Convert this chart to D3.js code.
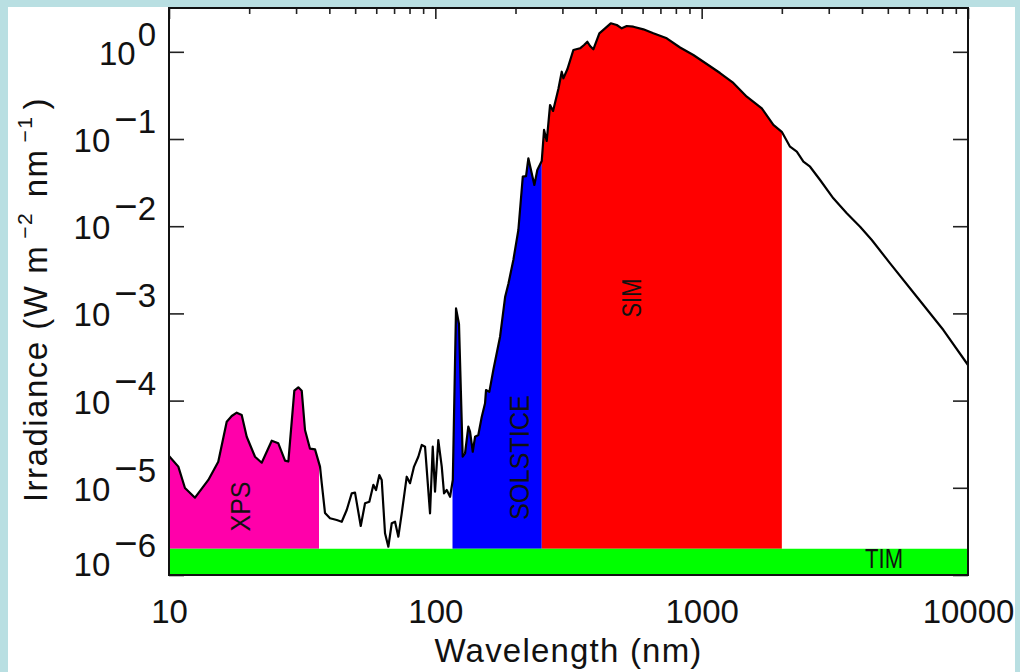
<!DOCTYPE html>
<html lang="en">

<head>
    <meta charset="UTF-8" />
    <title>Solar spectral irradiance and instrument coverage</title>
    <script src="https://cdn.jsdelivr.net/npm/d3@7"></script>
    <style>
        body { margin: 0; }
        text { font-family: "Liberation Sans", Arial, sans-serif; fill: #111; }
    </style>
</head>

<body>
    <div id="my_dataviz"></div>

    <script>

        // solar spectrum: wavelength (nm), irradiance (W m-2 nm-1)
        const wavelength = [
            10.0, 10.84, 11.48, 12.52, 14.05, 15.31, 16.47, 17.20, 17.96, 18.75,
            19.58, 21.04, 22.29, 24.31, 25.73, 27.27, 28.06, 29.55, 30.59, 31.50,
            32.41, 33.84, 35.34, 36.90, 37.45, 38.53, 40.23, 42.63, 44.52, 46.48,
            48.54, 49.94, 52.47, 54.46, 56.52, 58.51, 59.89, 61.62, 62.91, 64.73,
            66.61, 68.60, 70.58, 72.63, 74.79, 78.09, 80.35, 83.18, 86.33, 88.91,
            91.48, 95.52, 97.78, 99.74, 102.6, 105.7, 107.8, 110.4, 113.6, 116.3,
            119.6, 122.7, 126.7, 129.3, 133.0, 135.0, 138.2, 141.0, 145.0, 149.4,
            153.7, 155.0, 159.5, 165.1, 175.0, 182.8, 188.0, 196.3, 205.0, 213.0,
            219.1, 223.5, 230.1, 235.4, 241.5, 250.9, 256.0, 262.0, 269.6, 276.7,
            289.7, 298.3, 302.5, 313.1, 329.8, 349.4, 361.7, 372.2, 381.0, 392.0,
            412.9, 433.8, 455.7, 480.0, 501.2, 523.3, 554.1, 604.0, 658.5, 739.5,
            829.7, 930.7, 1045, 1172, 1315, 1477, 1682, 1859, 1999, 2147,
            2276, 2410, 2553, 2784, 3122, 3506, 3934, 4353, 5099, 6423,
            8084, 10000
        ];
        const irradiance = [
            2.32e-5, 1.75e-5, 9.95e-6, 7.70e-6, 1.23e-5, 1.99e-5, 5.73e-5, 6.66e-5, 7.27e-5, 6.84e-5,
            3.85e-5, 2.27e-5, 1.94e-5, 3.47e-5, 3.24e-5, 2.05e-5, 2.00e-5, 1.30e-4, 1.42e-4, 1.30e-4,
            4.60e-5, 2.81e-5, 2.76e-5, 1.75e-5, 1.13e-5, 5.14e-6, 4.47e-6, 4.27e-6, 4.08e-6, 5.56e-6,
            8.65e-6, 8.79e-6, 3.65e-6, 6.64e-6, 6.93e-6, 1.08e-5, 9.44e-6, 1.40e-5, 1.23e-5, 3.01e-6,
            2.11e-6, 3.92e-6, 4.08e-6, 2.75e-6, 5.10e-6, 1.34e-5, 1.13e-5, 1.75e-5, 2.27e-5, 3.10e-5,
            2.96e-5, 5.10e-6, 2.96e-5, 9.02e-6, 3.53e-5, 1.75e-5, 8.65e-6, 9.44e-6, 7.90e-6, 1.23e-5,
            1.14e-3, 7.56e-4, 2.27e-5, 2.49e-5, 5.02e-5, 4.40e-5, 2.59e-5, 3.85e-5, 4.03e-5, 6.53e-5,
            9.31e-5, 1.32e-4, 1.26e-4, 2.24e-4, 5.40e-4, 1.54e-3, 2.17e-3, 4.10e-3, 9.05e-3, 3.70e-2,
            3.76e-2, 6.01e-2, 4.04e-2, 2.97e-2, 4.41e-2, 5.59e-2, 0.127, 0.0949, 0.245, 0.210,
            0.374, 0.591, 0.497, 0.630, 1.049, 1.097, 1.197, 1.305, 1.166, 1.068,
            1.630, 1.860, 2.123, 2.029, 1.860, 1.976, 1.940, 1.811, 1.630, 1.428,
            1.120, 0.919, 0.725, 0.571, 0.439, 0.306, 0.225, 0.145, 0.121, 0.0816,
            0.0715, 0.0549, 0.0481, 0.0339, 0.0209, 0.0141, 0.00987, 0.00694, 0.00375, 0.00155,
            6.45e-4, 2.56e-4
        ];

        // wavelength coverage of each instrument (nm)
        const instruments = ["XPS", "SOLSTICE", "SIM"];
        const instStart = [10, 116, 251];
        const instEnd = [36.6, 251, 2000];
        // TIM is drawn as a band along the bottom
        const timBand = [1e-6, 2e-6];

        const xTicks = [10, 100, 1000, 10000];
        const yExponents = [0, -1, -2, -3, -4, -5, -6];

        const colors = { XPS: "#ff00aa", SOLSTICE: "#0000ff", SIM: "#ff0000", TIM: "#00ff00" };

        // set the dimensions and margins of the graph
        const W = 1020, H = 672;
        const margin = { top: 8, right: 52, bottom: 97, left: 169 },
            width = W - margin.left - margin.right,
            height = H - margin.top - margin.bottom;

        const root = d3.select("#my_dataviz")
            .append("svg")
            .attr("width", W)
            .attr("height", H);

        // light blue page border
        root.append("rect").attr("width", W).attr("height", H).attr("fill", "#b9dfe2");
        root.append("rect").attr("x", 8).attr("y", 7).attr("width", 1007).attr("height", H - 7).attr("fill", "#fff");

        const svg = root.append("g")
            .attr("transform", `translate(${margin.left},${margin.top})`);

        const x = d3.scaleLog().domain([10, 10000]).range([0, width]);
        const y = d3.scaleLog().domain([1e-6, 3.18]).range([height, 0]);

        const decades = yExponents.map(e => Math.pow(10, e));
        const minorX = x.ticks().filter(t => xTicks.indexOf(t) < 0);

        function styleTicks(g) {
            g.select(".domain").remove();
            g.selectAll("line").attr("stroke", "#222").attr("stroke-width", 1.6);
        }

        // ticks go in first, the fills sit on top of them
        svg.append("g").call(d3.axisLeft(y).tickValues(decades).tickSize(-15).tickFormat("")).call(styleTicks);
        svg.append("g").attr("transform", `translate(${width},0)`)
            .call(d3.axisRight(y).tickValues(decades).tickSize(-15).tickFormat("")).call(styleTicks);
        svg.append("g").call(d3.axisTop(x).tickValues(xTicks).tickSize(-11).tickFormat("")).call(styleTicks);
        svg.append("g").call(d3.axisTop(x).tickValues(minorX).tickSize(-6).tickFormat("")).call(styleTicks);

        const spectrum = wavelength.map((w, i) => [w, irradiance[i]]);

        // filled area under the spectrum, one clip per instrument
        const area = d3.area()
            .x(d => x(d[0]))
            .y0(y(timBand[1]))
            .y1(d => y(d[1]));

        const defs = root.append("defs");
        instruments.forEach((name, i) => {
            defs.append("clipPath").attr("id", "clip-" + name)
                .append("rect")
                .attr("x", x(instStart[i]))
                .attr("y", 0)
                .attr("width", x(instEnd[i]) - x(instStart[i]))
                .attr("height", height);
            svg.append("path")
                .datum(spectrum)
                .attr("d", area)
                .attr("fill", colors[name])
                .attr("clip-path", `url(#clip-${name})`);
        });

        // TIM band
        svg.append("rect")
            .attr("x", 0)
            .attr("y", y(timBand[1]))
            .attr("width", width)
            .attr("height", y(timBand[0]) - y(timBand[1]))
            .attr("fill", colors.TIM);

        // spectrum line
        svg.append("path")
            .datum(spectrum)
            .attr("fill", "none")
            .attr("stroke", "#000")
            .attr("stroke-width", 2.2)
            .attr("stroke-linejoin", "round")
            .attr("d", d3.line().x(d => x(d[0])).y(d => y(d[1])));

        // frame
        svg.append("rect")
            .attr("width", width)
            .attr("height", height)
            .attr("fill", "none")
            .attr("stroke", "#111")
            .attr("stroke-width", 2);

        // x tick labels
        svg.append("g")
            .attr("transform", `translate(0,${height})`)
            .call(d3.axisBottom(x).tickValues(xTicks).tickSize(0).tickFormat(d3.format("d")))
            .call(g => g.select(".domain").remove())
            .selectAll("text")
            .attr("y", 48)
            .attr("dy", 0)
            .attr("font-size", 33)
            .attr("font-family", null);

        // y tick labels as 10 with a superscript exponent
        yExponents.forEach(e => {
            const t = svg.append("text")
                .attr("x", -13)
                .attr("y", Math.min(y(Math.pow(10, e)) + 13, height + 1))
                .attr("text-anchor", "end")
                .attr("font-size", 33);
            t.append("tspan").text("10");
            if (e < 0) {
                t.append("tspan").attr("font-size", 40).attr("dx", 4).attr("dy", -19).text("\u2212");
                t.append("tspan").text(String(-e));
            } else {
                t.append("tspan").attr("dx", 2).attr("dy", -19).text(String(e));
            }
        });

        // axis titles
        svg.append("text")
            .attr("x", width / 2)
            .attr("y", height + 87)
            .attr("text-anchor", "middle")
            .attr("font-size", 33)
            .attr("letter-spacing", 1.2)
            .text("Wavelength (nm)");

        const yt = svg.append("text")
            .attr("transform", `translate(-122,${height / 2 + 8}) rotate(-90)`)
            .attr("text-anchor", "middle")
            .attr("font-size", 33)
            .attr("letter-spacing", 1.5);
        yt.append("tspan").text("Irradiance  (W  m");
        yt.append("tspan").attr("font-size", 21).attr("dx", 6).attr("dy", -15).text("\u22122");
        yt.append("tspan").attr("dx", 4).attr("dy", 15).text("  nm");
        yt.append("tspan").attr("font-size", 21).attr("dx", 6).attr("dy", -15).text("\u22121");
        yt.append("tspan").attr("dx", 6).attr("dy", 15).text(")");

        // instrument labels
        const labelName = ["XPS", "SOLSTICE", "SIM", "TIM"];
        const labelAt = [[20.1, 6.1e-6], [224.9, 2.22e-5], [592, 1.5e-3], [4840, 1.2e-6]];
        const labelLen = [50, 125, 39, 38];
        const labelRotate = [true, true, true, false];

        labelName.forEach((name, i) => {
            const px = x(labelAt[i][0]), py = y(labelAt[i][1]);
            svg.append("text")
                .attr("transform", `translate(${px},${py})` + (labelRotate[i] ? " rotate(-90)" : ""))
                .attr("text-anchor", "middle")
                .attr("font-size", 28)
                .attr("textLength", labelLen[i])
                .attr("lengthAdjust", "spacingAndGlyphs")
                .text(name);
        });

    </script>
</body>

</html>
